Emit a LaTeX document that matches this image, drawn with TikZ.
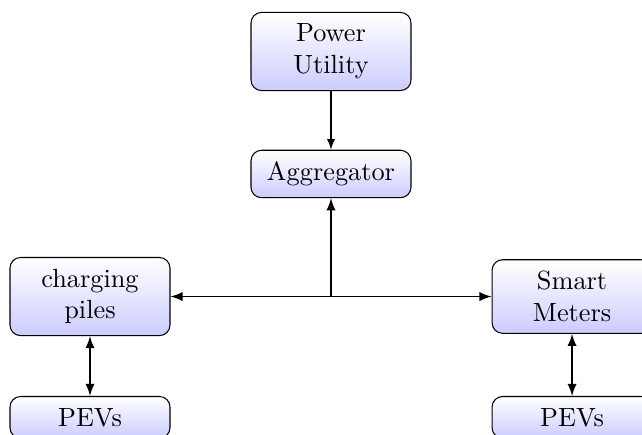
\documentclass[tikz,border=0pt]{standalone}
\usetikzlibrary{arrows}
\tikzset{
    unit/.style={draw, rounded corners=4pt, top color=white, bottom color=blue!20,
        text width=52pt, align=center, inner sep=4.4pt},
    link/.style={-latex, semithick}
}
\begin{document}
\begin{tikzpicture}
    \useasboundingbox (0,0) rectangle (8.575,5.797);

    % Units
    \node[unit] (utility) at (4.421,5.109) {Power Utility};
    \node[unit] (aggr) at (4.421,3.473) {Aggregator};
    \node[unit] (piles) at (1.202,1.836) {charging piles};
    \node[unit] (meters) at (7.641,1.836) {Smart Meters};
    \node[unit, anchor=north] (pevsl) at (1.202,0.508) {PEVs};
    \node[unit, anchor=north] (pevsr) at (7.641,0.508) {PEVs};

    % Links
    \coordinate (hub) at (4.421,1.836);
    \draw[-latex] (utility) -- (aggr);
    \draw[link] (hub) -- (aggr);
    \draw[link] (hub) -- (piles);
    \draw[link] (hub) -- (meters);
    \draw[link, latex-latex] (piles) -- (pevsl);
    \draw[link, latex-latex] (meters) -- (pevsr);
\end{tikzpicture}
\end{document}
